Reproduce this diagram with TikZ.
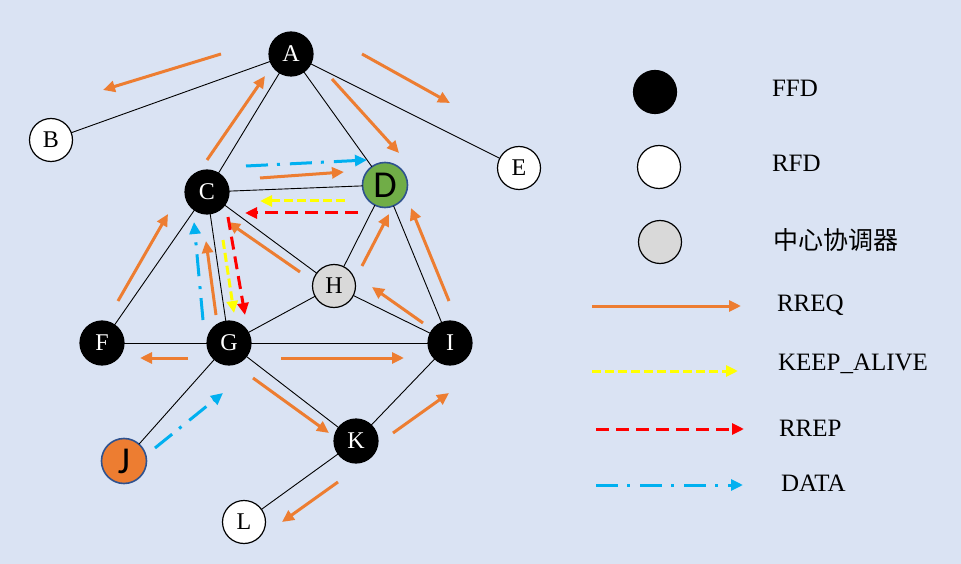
\documentclass[tikz,border=0pt]{standalone}
\usepackage{fontspec}
\setmainfont{Liberation Serif}
\newfontfamily\cjk{Noto Sans CJK SC}
\newfontfamily\sansD{Carlito}
\usetikzlibrary{arrows.meta}
\definecolor{bg}{HTML}{DAE3F3}
\definecolor{orng}{HTML}{ED7D31}
\definecolor{yel}{HTML}{FFFF00}
\definecolor{rd}{HTML}{FF0000}
\definecolor{blu}{HTML}{00B0F0}
\definecolor{grn}{HTML}{70AD47}
\definecolor{dkblue}{HTML}{2F528F}
\definecolor{lgray}{HTML}{D9D9D9}
\newcommand\msg[4]{\coordinate (#1a) at (#3); \coordinate (#1b) at (#4); \draw[#2] (#1a) -- (#1b);}
\begin{document}
\begin{tikzpicture}[x=1pt,y=-1pt,
  every node/.style={inner sep=0pt, outer sep=0pt},
  nd/.style={circle, minimum size=44pt, draw=black, line width=1.2pt, font=\fontsize{24}{24}\selectfont},
  ffd/.style={nd, fill=black, text=white},
  rfd/.style={nd, fill=white, minimum size=43pt},
  coord/.style={nd, fill=lgray, minimum size=43pt},
  special/.style={nd, draw=dkblue, line width=1.6pt, minimum size=45pt, font=\sansD\fontsize{38}{38}\selectfont},
  link/.style={draw=black, line width=0.9pt},
  tip/.style={-{Triangle[length=12pt,width=11pt]}},
  rreq/.style={draw=orng, line width=3pt, tip},
  keep/.style={draw=yel, line width=3pt, dash pattern=on 9pt off 4pt, tip},
  rrep/.style={draw=rd, line width=3pt, dash pattern=on 13pt off 7pt, tip},
  data/.style={draw=blu, line width=3pt, dash pattern=on 22pt off 9pt on 3pt off 10pt, tip},
  lgtext/.style={anchor=base west, font=\fontsize{25}{25}\selectfont}
]
\path[fill=bg] (0,0) rectangle (961,564);

% nodes
\node[ffd] (A) at (291,54) {A};
\node[rfd] (B) at (51,140) {B};
\node[ffd] (C) at (207,192) {C};
\node[special, fill=grn] (D) at (385,185) {D};
\node[rfd] (E) at (519,168) {E};
\node[ffd] (F) at (102,343) {F};
\node[ffd] (G) at (229,343) {G};
\node[coord] (H) at (334,286) {H};
\node[ffd] (I) at (450,343) {I};
\node[special, fill=orng] (J) at (124,461) {J};
\node[ffd] (K) at (356,441) {K};
\node[rfd] (L) at (244,522) {L};

% links
\draw[link] (A) -- (B);
\draw[link] (A) -- (E);
\draw[link] (A) -- (C);
\draw[link] (A) -- (D);
\draw[link] (C) -- (D);
\draw[link] (C) -- (F);
\draw[link] (C) -- (G);
\draw[link] (C) -- (H);
\draw[link] (D) -- (H);
\draw[link] (D) -- (I);
\draw[link] (H) -- (I);
\draw[link] (H) -- (G);
\draw[link] (F) -- (G);
\draw[link] (G) -- (I);
\draw[link] (G) -- (K);
\draw[link] (G) -- (J);
\draw[link] (K) -- (I);
\draw[link] (K) -- (L);

% RREQ messages
\msg{ab}{rreq}{221,54}{103,90}
\msg{ca}{rreq}{207,160}{265,76}
\msg{ad}{rreq}{332,79}{399,153}
\msg{ae}{rreq}{362,54}{450,103}
\msg{cd}{rreq}{260,178}{344,172}
\msg{hc}{rreq}{300,272}{228,222}
\msg{hd}{rreq}{362,266}{389,214}
\msg{ih}{rreq}{423,323}{372,287}
\msg{id}{rreq}{449,301}{411,208}
\msg{gi}{rreq}{281,358}{404,358}
\msg{gf}{rreq}{188,358}{140,358}
\msg{gk}{rreq}{253,378}{329,433}
\msg{ki}{rreq}{393,433}{449,393}
\msg{kl}{rreq}{338,482}{282,522}
\msg{fc}{rreq}{118,301}{168,214}
\msg{gc}{rreq}{216,315}{206,241}

% KEEP_ALIVE
\msg{kdc}{keep}{345,201}{260,201}
\msg{kcg}{keep}{223,240}{234,313}

% RREP
\msg{rdc}{rrep}{358,213}{245,213}
\msg{rcg}{rrep}{228,217}{245,315}

% DATA
\msg{dcd}{data}{246,166}{367,160}
\msg{dgc}{data}{203,320}{194,222}
\msg{djg}{data}{155,448}{223,393}

% legend
\node[nd, fill=black, minimum size=43pt] (lffd) at (655,92) {};
\node[nd, fill=white, minimum size=43pt] (lrfd) at (659,167) {};
\node[nd, fill=lgray, minimum size=43pt] (lcoo) at (660,242) {};
\node[lgtext] (tffd) at (772,96.5) {FFD};
\node[lgtext] (trfd) at (772,171.5) {RFD};
\node[anchor=base west, font=\cjk\fontsize{25}{25}\selectfont] (tcoo) at (773,249) {中心协调器};

\msg{lq}{rreq}{592,306}{741,306}
\msg{lk}{keep}{592,371}{738,371}
\msg{lr}{rrep}{596,429}{744,429}
\msg{ld}{data}{596,485}{743,485}
\node[lgtext] (tq) at (777,311.5) {RREQ};
\node[lgtext] (tk) at (778,370) {KEEP\_ALIVE};
\node[lgtext] (tr) at (779,436.5) {RREP};
\node[lgtext] (td) at (781,491.5) {DATA};
\end{tikzpicture}
\end{document}
